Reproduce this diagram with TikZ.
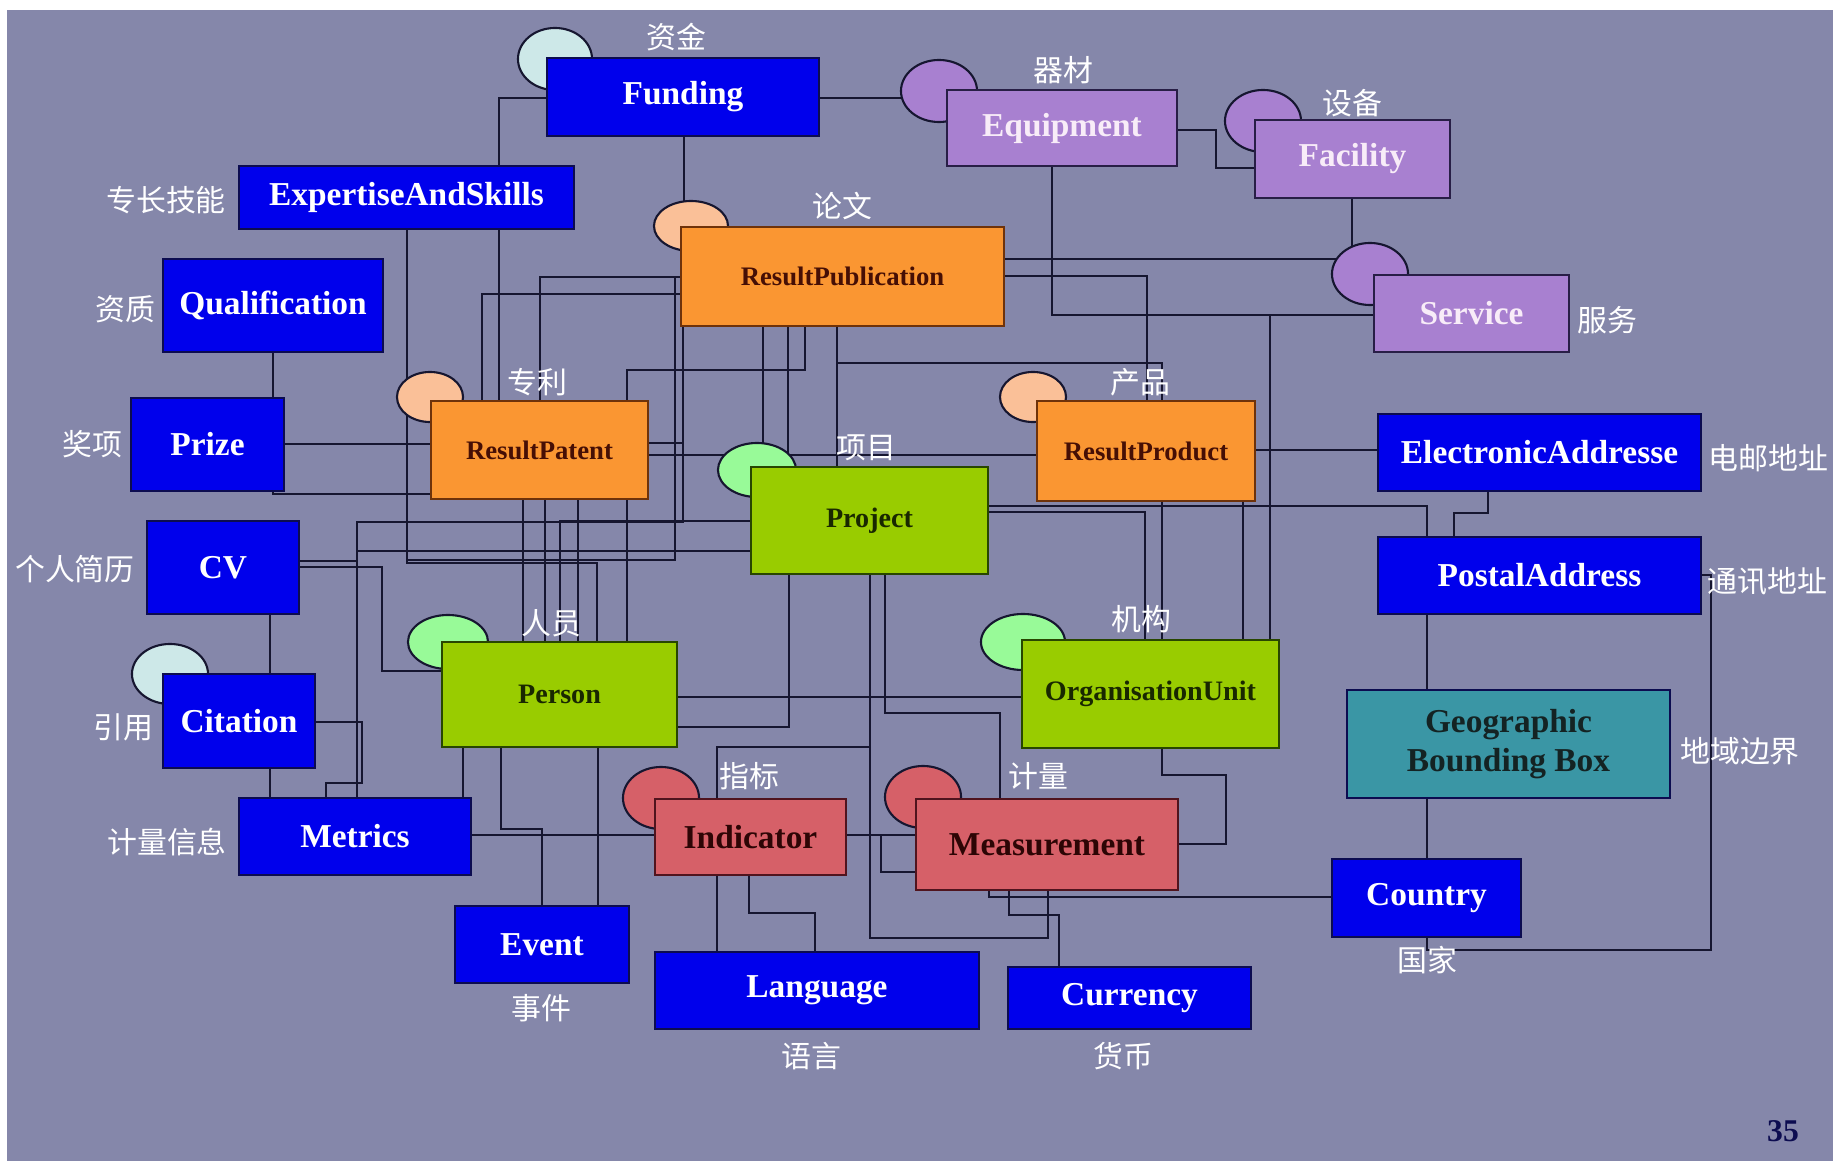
\documentclass[tikz,border=0pt]{standalone}
\usepackage{fontspec}
\setmainfont{Liberation Serif}
\newfontfamily\cjk{Noto Sans CJK SC}
\usetikzlibrary{shapes.geometric}

\definecolor{slate}{RGB}{133,135,170}
\definecolor{wirenavy}{RGB}{22,22,48}
\definecolor{boxblue}{RGB}{0,0,236}
\definecolor{bluerim}{RGB}{12,12,80}
\definecolor{boxpurple}{RGB}{168,128,208}
\definecolor{purplerim}{RGB}{40,30,70}
\definecolor{purpletext}{RGB}{248,236,248}
\definecolor{boxorange}{RGB}{250,150,50}
\definecolor{orangerim}{RGB}{110,50,10}
\definecolor{orangetext}{RGB}{70,15,5}
\definecolor{peach}{RGB}{250,192,152}
\definecolor{boxgreen}{RGB}{153,204,0}
\definecolor{greenrim}{RGB}{40,70,0}
\definecolor{greentext}{RGB}{25,40,0}
\definecolor{mint}{RGB}{152,250,152}
\definecolor{boxred}{RGB}{214,96,104}
\definecolor{redrim}{RGB}{80,20,30}
\definecolor{redtext}{RGB}{45,5,5}
\definecolor{boxteal}{RGB}{58,150,165}
\definecolor{tealtext}{RGB}{20,35,35}
\definecolor{icecyan}{RGB}{205,232,232}

\pgfdeclarelayer{bg}
\pgfdeclarelayer{wires}
\pgfsetlayers{bg,wires,main}

\tikzstyle{boxbase} = [rectangle, draw, line width=0.6pt, inner sep=0pt, text centered, font=\bfseries\fontsize{9.5}{11}\selectfont]
\tikzstyle{bluebox} = [boxbase, fill=boxblue, draw=bluerim, text=white]
\tikzstyle{purplebox} = [boxbase, fill=boxpurple, draw=purplerim, text=purpletext]
\tikzstyle{orangebox} = [boxbase, fill=boxorange, draw=orangerim, text=orangetext, font=\bfseries\fontsize{7.6}{9}\selectfont]
\tikzstyle{greenbox} = [boxbase, fill=boxgreen, draw=greenrim, text=greentext, font=\bfseries\fontsize{8}{9.6}\selectfont]
\tikzstyle{redbox} = [boxbase, fill=boxred, draw=redrim, text=redtext]
\tikzstyle{tealbox} = [boxbase, fill=boxteal, draw=bluerim, text=tealtext, align=center]
\tikzstyle{ring} = [ellipse, draw=wirenavy, line width=0.6pt, inner sep=0pt, minimum width=0.76cm, minimum height=0.62cm]
\tikzstyle{cnlabel} = [text=white, inner sep=0pt, font=\cjk\fontsize{8.5}{10}\selectfont]
\tikzstyle{wire} = [line width=0.75pt, draw=wirenavy]

\begin{document}
\begin{tikzpicture}[x=0.01cm, y=-0.01cm]
\useasboundingbox (0,0) rectangle (1833,1161);
\begin{pgfonlayer}{bg}
  \fill [white] (0,0) rectangle (1833,1161);
  \fill [slate] (7,10) rectangle (1833,1161);
\end{pgfonlayer}

% circles behind the boxes
\node [ring, fill=icecyan, minimum width=0.74cm] at (555,59) (fundc) {};
\node [ring, fill=boxpurple] at (939,91) (equipc) {};
\node [ring, fill=boxpurple] at (1263,121) (facc) {};
\node [ring, fill=boxpurple] at (1370,274) (servc) {};
\node [ring, fill=peach, minimum width=0.74cm, minimum height=0.5cm] at (691,226) (rpubc) {};
\node [ring, fill=peach, minimum width=0.66cm, minimum height=0.5cm] at (430,397) (patc) {};
\node [ring, fill=peach, minimum width=0.66cm, minimum height=0.5cm] at (1033,397) (prodc) {};
\node [ring, fill=mint, minimum width=0.78cm, minimum height=0.54cm] at (757,470) (projc) {};
\node [ring, fill=mint, minimum width=0.8cm, minimum height=0.54cm] at (448,642) (persc) {};
\node [ring, fill=mint, minimum width=0.84cm, minimum height=0.56cm] at (1023,642) (orgc) {};
\node [ring, fill=icecyan, minimum height=0.6cm] at (170,674) (citc) {};
\node [ring, fill=boxred] at (661,798) (indc) {};
\node [ring, fill=boxred] at (923,797) (measc) {};

% boxes
\node [bluebox, minimum width=2.72cm, minimum height=0.78cm] at (683,97) (funding) {Funding};
\node [purplebox, minimum width=2.30cm, minimum height=0.76cm] at (1062,128) (equip) {Equipment};
\node [purplebox, minimum width=1.95cm, minimum height=0.78cm] at (1352.5,159) (facility) {Facility};
\node [purplebox, minimum width=1.95cm, minimum height=0.77cm] at (1471.5,313.5) (service) {Service};
\node [orangebox, minimum width=3.23cm, minimum height=0.99cm] at (842.5,276.5) (rpub) {ResultPublication};
\node [bluebox, minimum width=3.35cm, minimum height=0.63cm] at (406.5,197.5) (expert) {ExpertiseAndSkills};
\node [bluebox, minimum width=2.20cm, minimum height=0.93cm] at (273,305.5) (qualif) {Qualification};
\node [bluebox, minimum width=1.53cm, minimum height=0.93cm] at (207.5,444.5) (prize) {Prize};
\node [orangebox, minimum width=2.17cm, minimum height=0.98cm] at (539.5,450) (patent) {ResultPatent};
\node [bluebox, minimum width=1.52cm, minimum height=0.93cm] at (223,567.5) (cv) {CV};
\node [greenbox, minimum width=2.37cm, minimum height=1.07cm] at (869.5,520.5) (project) {Project};
\node [orangebox, minimum width=2.18cm, minimum height=1.00cm] at (1146,451) (product) {ResultProduct};
\node [bluebox, minimum width=3.23cm, minimum height=0.77cm] at (1539.5,452.5) (email) {ElectronicAddresse};
\node [bluebox, minimum width=3.23cm, minimum height=0.77cm] at (1539.5,575.5) (postal) {PostalAddress};
\node [greenbox, minimum width=2.35cm, minimum height=1.05cm] at (559.5,694.5) (person) {Person};
\node [greenbox, minimum width=2.57cm, minimum height=1.08cm] at (1150.5,694) (orgunit) {OrganisationUnit};
\node [bluebox, minimum width=1.52cm, minimum height=0.94cm] at (239,721) (citation) {Citation};
\node [tealbox, minimum width=3.23cm, minimum height=1.08cm] at (1508.5,744) (geobox) {Geographic\\Bounding Box};
\node [bluebox, minimum width=2.32cm, minimum height=0.77cm] at (355,836.5) (metrics) {Metrics};
\node [redbox, minimum width=1.91cm, minimum height=0.76cm] at (750.5,837) (indicator) {Indicator};
\node [redbox, minimum width=2.62cm, minimum height=0.91cm] at (1047,844.5) (measure) {Measurement};
\node [bluebox, minimum width=1.74cm, minimum height=0.77cm] at (542,944.5) (event) {Event};
\node [bluebox, minimum width=3.24cm, minimum height=0.77cm] at (817,990.5) (language) {Language};
\node [bluebox, minimum width=2.43cm, minimum height=0.62cm] at (1129.5,998) (currency) {Currency};
\node [bluebox, minimum width=1.89cm, minimum height=0.78cm] at (1426.5,898) (country) {Country};

% chinese names
\node [cnlabel] at (676,37) (fundingcn) {资金};
\node [cnlabel] at (1063,70) (equipcn) {器材};
\node [cnlabel] at (1352,103) (facilitycn) {设备};
\node [cnlabel] at (166,200) (expertcn) {专长技能};
\node [cnlabel] at (842,206) (rpubcn) {论文};
\node [cnlabel] at (125,309) (qualifcn) {资质};
\node [cnlabel] at (1607,320) (servicecn) {服务};
\node [cnlabel] at (537,382) (patentcn) {专利};
\node [cnlabel] at (92,444) (prizecn) {奖项};
\node [cnlabel] at (1140,382) (productcn) {产品};
\node [cnlabel, anchor=west] at (1708,458) (emailcn) {电邮地址};
\node [cnlabel, anchor=west] at (1707,581) (postalcn) {通讯地址};
\node [cnlabel] at (866,448) (projectcn) {项目};
\node [cnlabel] at (75,569) (cvcn) {个人简历};
\node [cnlabel] at (551,623) (personcn) {人员};
\node [cnlabel] at (1141,619) (orgunitcn) {机构};
\node [cnlabel] at (123,727) (citationcn) {引用};
\node [cnlabel] at (1740,751) (geoboxcn) {地域边界};
\node [cnlabel] at (749,776) (indicatorcn) {指标};
\node [cnlabel] at (1038,776) (measurecn) {计量};
\node [cnlabel] at (167,842) (metricscn) {计量信息};
\node [cnlabel] at (1427,960) (countrycn) {国家};
\node [cnlabel] at (541,1008) (eventcn) {事件};
\node [cnlabel] at (811,1056) (languagecn) {语言};
\node [cnlabel] at (1123,1056) (currencycn) {货币};
\node [text=bluerim, inner sep=0pt, font=\bfseries\fontsize{9}{10}\selectfont] at (1783,1131) (pageno) {35};

% connectors
\begin{pgfonlayer}{wires}
\draw [wire] (funding.west |- 0,98) -| (patent.north -| 499,0);
\draw [wire] (funding.south -| 684,0) -- (rpub.north -| 684,0);
\draw [wire] (funding.east |- 0,98) -- (equipc.center |- 0,98);
\draw [wire] (equip.east |- 0,130) -- ++(38,0) |- (facility.west |- 0,168);
\draw [wire] (equip.south -| 1052,0) |- (service.west |- 0,315);
\draw [wire] (facility.south -| 1352,0) -- (servc.center -| 1352,0);
\draw [wire] (rpub.east |- 0,259) -- (servc.center |- 0,259);
\draw [wire] (rpub.east |- 0,276) -| (product.north -| 1147,0);
\draw [wire] (rpub.south -| 837,0) |- (1162,363) -- (product.north -| 1162,0);
\draw [wire] (rpub.south -| 837,0) -- (project.north -| 837,0);
\draw [wire] (rpub.south -| 763,0) -- (project.north -| 763,0);
\draw [wire] (rpub.south -| 788,0) -- (project.north -| 788,0);
\draw [wire] (service.west |- 0,315) -| (orgunit.north -| 1270,0);
\draw [wire] (product.east |- 0,450) -- (email.west |- 0,450);
\draw [wire] (email.south -| 1488,0) |- (1454,513) -- (postal.north -| 1454,0);
\draw [wire] (project.east |- 0,506) -| (postal.north -| 1427,0);
\draw [wire] (project.east |- 0,512) -| (orgunit.north -| 1145,0);
\draw [wire] (product.south -| 1162,0) -- (orgunit.north -| 1162,0);
\draw [wire] (product.south -| 1243,0) -- (orgunit.north -| 1243,0);
\draw [wire] (postal.south -| 1427,0) -- (geobox.north -| 1427,0);
\draw [wire] (geobox.south -| 1427,0) -- (country.north -| 1427,0);
\draw [wire] (postal.east |- 0,575) -| (1711,950) -| (country.south -| 1427,0);
\draw [wire] (orgunit.south -| 1162,0) |- (1226,775) |- (measure.east |- 0,844);
\draw [wire] (measure.south -| 989,0) |- (country.west |- 0,897);
\draw [wire] (measure.south -| 1009,0) |- (1059,915) -- (currency.north -| 1059,0);
\draw [wire] (project.south -| 870,0) |- (1048,938) -- (measure.south -| 1048,0);
\draw [wire] (project.south -| 885,0) |- (1000,713) -- (measure.north -| 1000,0);
\draw [wire] (person.east |- 0,727) -| (project.south -| 789,0);
\draw [wire] (person.east |- 0,697) -- (orgunit.west |- 0,697);
\draw [wire] (project.south -| 870,0) |- (717,747) -- (indicator.north -| 717,0);
\draw [wire] (indicator.east |- 0,835) -- (measure.west |- 0,835);
\draw [wire] (indicator.east |- 0,835) -| (881,872) -- (measure.west |- 0,872);
\draw [wire] (indicator.south -| 717,0) -- (language.north -| 717,0);
\draw [wire] (indicator.south -| 749,0) |- (815,913) -- (language.north -| 815,0);
\draw [wire] (metrics.east |- 0,835) -- (indicator.west |- 0,835);
\draw [wire] (person.south -| 463,0) -- (metrics.north -| 463,0);
\draw [wire] (person.south -| 501,0) |- (542,829) -- (event.north -| 542,0);
\draw [wire] (person.south -| 598,0) -- (event.north -| 598,0);
\draw [wire] (citation.east |- 0,722) -| (362,783) -| (metrics.north -| 326,0);
\draw [wire] (citation.south -| 270,0) -- (metrics.north -| 270,0);
\draw [wire] (cv.south -| 270,0) -- (citation.north -| 270,0);
\draw [wire] (cv.east |- 0,567) -| (382,671) -- (person.west |- 0,671);
\draw [wire] (cv.east |- 0,561) -| (metrics.north -| 357,0);
\draw [wire] (project.west |- 0,551) -| (metrics.north -| 357,0);
\draw [wire] (rpub.south -| 683,0) |- (357,522) -- (metrics.north -| 357,0);
\draw [wire] (rpub.south -| 683,0) |- (patent.east |- 0,443);
\draw [wire] (project.west |- 0,521) -| (person.north -| 560,0);
\draw [wire] (qualif.south -| 273,0) -- (prize.north -| 273,0);
\draw [wire] (prize.east |- 0,444) -- (patent.west |- 0,444);
\draw [wire] (prize.south -| 273,0) |- (patent.west |- 0,494);
\draw [wire] (rpub.west |- 0,277) -| (patent.north -| 540,0);
\draw [wire] (rpub.west |- 0,294) -| (patent.north -| 482,0);
\draw [wire] (rpub.south -| 805,0) |- (627,370) -- (patent.north -| 627,0);
\draw [wire] (patent.south -| 627,0) -- (person.north -| 627,0);
\draw [wire] (patent.south -| 523,0) -- (person.north -| 523,0);
\draw [wire] (patent.south -| 545,0) -- (person.north -| 545,0);
\draw [wire] (patent.south -| 578,0) -- (person.north -| 578,0);
\draw [wire] (patent.east |- 0,455) -- (product.west |- 0,455);
\draw [wire] (expert.south -| 407,0) |- (675,560) |- (rpub.west |- 0,277);
\draw [wire] (expert.south -| 407,0) |- (597,563) -- (person.north -| 597,0);
\end{pgfonlayer}
\end{tikzpicture}
\end{document}
